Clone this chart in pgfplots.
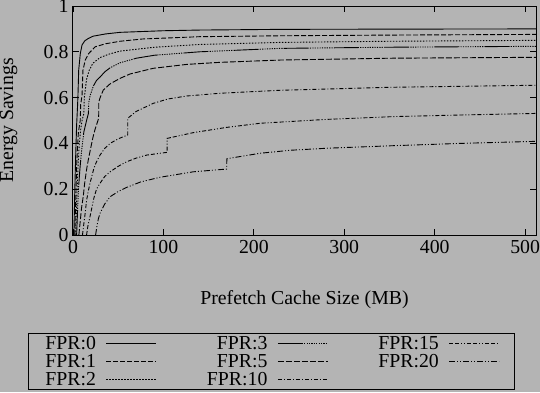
\documentclass[border=0pt]{standalone}
\usepackage{pgfplots}
\pgfplotsset{compat=1.18}
\usepackage{fontspec}
\setmainfont{Liberation Serif}
\definecolor{bg}{RGB}{180,180,180}
\begin{document}
\begin{tikzpicture}
\fill[bg] (-73pt,-157pt) rectangle (467pt,235pt);
\begin{axis}[
  at={(0pt,0pt)}, anchor=south west,
  width=463pt, height=229pt, scale only axis,
  xmin=0, xmax=512, ymin=0, ymax=1,
  xtick={0,100,200,300,400,500},
  ytick={0,0.2,0.4,0.6,0.8,1},
  yticklabels={0,0.2,0.4,0.6,0.8,1},
  tick align=inside, tick pos=both,
  major tick length=6pt,
  axis line style={line width=1pt},
  every tick/.style={black, line width=0.8pt},
  /pgf/number format/assume math mode=true,
  font=\fontsize{19.8}{19.8}\selectfont,
  tick label style={font=\fontsize{19.8}{19.8}\selectfont},
  xticklabel style={yshift=-2pt},
  yticklabel style={xshift=-1pt},
  xlabel={Prefetch Cache Size (MB)},
  ylabel={Energy Savings},
  xlabel style={at={(axis description cs:0.5,-0.284)}, anchor=center},
  ylabel style={at={(axis description cs:-0.139,0.5)}, anchor=center},
  legend columns=3,
  legend plot pos=right,
  legend cell align=right,
  legend image code/.code={\draw[#1] (0pt,0pt) -- (50pt,0pt);},
  legend style={at={(axis description cs:-0.0972,-0.428)}, anchor=north west,
    draw=black, line width=0.8pt, fill=none, font=\fontsize{19.8}{19.8}\selectfont,
    inner xsep=15pt, inner ysep=0.5pt,
    row sep=-0.5pt,
    /tikz/every even column/.append style={column sep=48pt},
    /tikz/every odd column/.append style={column sep=8pt}},
  every axis plot/.append style={black, line width=0.9pt, mark=none},
]
% FPR:0
\addplot[black, solid] coordinates {(1,0) (2,0.2) (3,0.35) (4,0.48) (5,0.56) (5.5,0.61) (6.3,0.72) (8.1,0.793) (10,0.83) (13,0.848) (17.3,0.859) (22,0.868) (36,0.878) (52,0.885) (100,0.892) (140,0.895) (229,0.898) (350,0.899) (512,0.90)};
\addlegendentry{FPR:0}
% FPR:3
\addplot[black, dash pattern=on 25pt off 1.2pt on 1.2pt off 1.2pt on 1.2pt off 1.2pt on 1.2pt off 1.2pt on 1.2pt off 1.2pt on 1.2pt off 1.2pt on 1.2pt off 1.2pt on 1.2pt off 1.2pt on 1.2pt off 1.2pt on 1.2pt off 1.2pt on 1.2pt off 1.2pt]
  coordinates {(4,0) (5,0.1) (6,0.2) (7.5,0.28) (9,0.35) (12,0.45) (15,0.5) (17,0.53) (17.5,0.58) (19,0.61) (22.5,0.65) (26,0.675) (30,0.69) (35,0.712) (41,0.73) (52,0.752) (70,0.772) (90,0.785) (140,0.80) (229,0.815) (350,0.82) (512,0.824)};
\addlegendentry{FPR:3}
% FPR:15
\addplot[black, dash pattern=on 4pt off 2pt on 4pt off 2pt on 1pt off 2pt on 1pt off 2pt]
  coordinates {(15,0) (16.5,0.04) (18.8,0.08) (23,0.16) (26,0.2) (29.9,0.226) (35,0.255) (41,0.276) (50,0.3) (59.4,0.32) (70,0.336) (81.5,0.349) (104,0.361) (104.1,0.422) (133,0.447) (170,0.47) (207,0.488) (281,0.505) (354,0.517) (428,0.524) (512,0.531)};
\addlegendentry{FPR:15}
% FPR:1
\addplot[black, dash pattern=on 5pt off 2pt]
  coordinates {(2,0) (3,0.15) (4,0.3) (5,0.38) (6,0.45) (8,0.5) (8.5,0.57) (10,0.61) (11,0.72) (13.6,0.764) (17.4,0.793) (24.7,0.822) (35.8,0.835) (52,0.846) (77,0.856) (140,0.866) (229,0.870) (350,0.873) (512,0.876)};
\addlegendentry{FPR:1}
% FPR:5
\addplot[black, dash pattern=on 6pt off 2pt]
  coordinates {(6.5,0) (8,0.06) (9.5,0.12) (11.4,0.17) (13,0.23) (15.2,0.29) (17,0.33) (19.6,0.38) (22,0.425) (24.3,0.46) (28.4,0.51) (28.5,0.58) (30,0.6) (33.5,0.633) (41,0.66) (52,0.684) (63,0.703) (88.8,0.728) (125.8,0.745) (162.6,0.754) (229,0.764) (350,0.772) (512,0.776)};
\addlegendentry{FPR:5}
% FPR:20
\addplot[black, dash pattern=on 6pt off 2pt on 1pt off 2pt on 1pt off 2pt]
  coordinates {(25,0) (26.5,0.04) (28,0.07) (29.9,0.095) (35,0.135) (41,0.167) (50,0.19) (59.4,0.208) (75,0.232) (96,0.252) (133,0.276) (170,0.288) (170.1,0.333) (207,0.357) (240,0.37) (281,0.379) (354,0.39) (428,0.4) (512,0.409)};
\addlegendentry{FPR:20}
% FPR:2
\addplot[black, dash pattern=on 1.5pt off 1.5pt]
  coordinates {(3,0) (4,0.14) (5,0.25) (6,0.33) (7,0.4) (8.5,0.46) (10,0.5) (12,0.53) (12.5,0.6) (15,0.68) (18,0.72) (22,0.75) (30,0.775) (40,0.79) (52,0.803) (90,0.82) (140,0.832) (229,0.841) (350,0.846) (512,0.85)};
\addlegendentry{FPR:2}
% FPR:10
\addplot[black, dash pattern=on 4pt off 2pt on 1pt off 2pt]
  coordinates {(10.5,0) (12,0.05) (13,0.08) (15,0.15) (16.8,0.19) (18.8,0.226) (23,0.29) (26,0.32) (29.9,0.349) (35,0.378) (41,0.4) (50,0.42) (60.5,0.437) (60.6,0.51) (70,0.54) (88.8,0.575) (105,0.594) (125.8,0.607) (162.6,0.619) (229,0.632) (350,0.645) (512,0.654)};
\addlegendentry{FPR:10}
\end{axis}
\pgfresetboundingbox
\path (-73pt,-157pt) rectangle (467pt,235pt);
\end{tikzpicture}
\end{document}
